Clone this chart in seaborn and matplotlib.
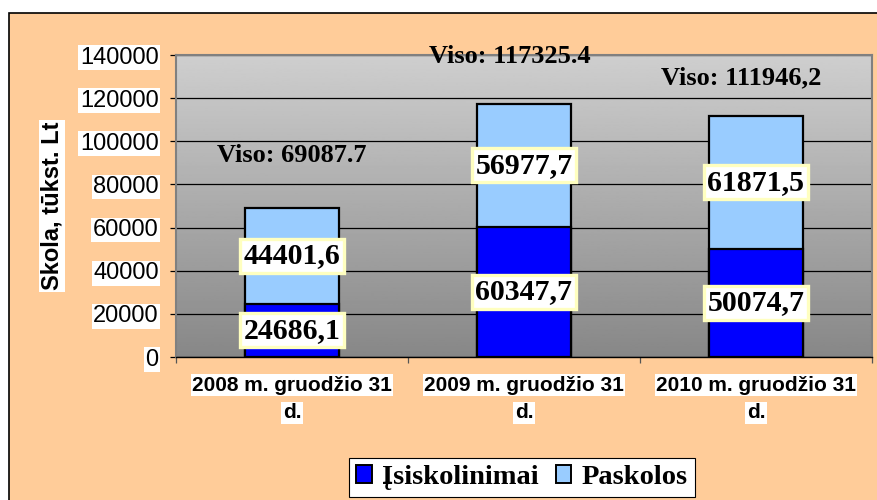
import numpy as np
import pandas as pd
import matplotlib
matplotlib.use('Agg')
import matplotlib.pyplot as plt
import matplotlib.patches as mpatches
from matplotlib.patches import Patch
import seaborn as sns

# values
dates = ["2008 m. gruodžio 31 d.", "2009 m. gruodžio 31 d.", "2010 m. gruodžio 31 d."]
isiskolinimai = [24686.1, 60347.7, 50074.7]
paskolos = [44401.6, 56977.7, 61871.5]
viso_labels = ["Viso: 69087.7", "Viso: 117325.4", "Viso: 111946,2"]
y_ticks = [0, 20000, 40000, 60000, 80000, 100000, 120000, 140000]

df = pd.DataFrame({'data': dates, 'Įsiskolinimai': isiskolinimai, 'Paskolos': paskolos})
df['Viso'] = df['Įsiskolinimai'] + df['Paskolos']

SANS = ['Liberation Sans', 'DejaVu Sans']
SERIF = ['Liberation Serif', 'DejaVu Serif']
BLUE = '#0000FF'
LIGHT = '#99CCFF'

W, H = 878, 500
fig = plt.figure(figsize=(W / 100, H / 100), dpi=100)
fig.patch.set_facecolor('white')
# orange chart area with black border (runs off right and bottom)
fig.patches.append(mpatches.Rectangle((9 / W, -0.05), 1.0, 1.05 - 13 / H,
                                      transform=fig.transFigure, facecolor='#FFCC99',
                                      edgecolor='black', linewidth=1.2, zorder=-10))

ax = fig.add_axes([176 / W, 143 / H, 696 / W, 302 / H])

# stacked bars: total first, then the lower segment on top of it
sns.barplot(data=df, x='data', y='Viso', color=LIGHT, saturation=1, width=0.405,
            edgecolor='black', linewidth=1.6, ax=ax, zorder=3)
sns.barplot(data=df, x='data', y='Įsiskolinimai', color=BLUE, saturation=1, width=0.405,
            edgecolor='black', linewidth=1.6, ax=ax, zorder=3)

# grey gradient plot area
grad = np.linspace(0.53, 0.81, 256).reshape(-1, 1)
ax.imshow(grad, cmap='gray', vmin=0, vmax=1, origin='lower', aspect='auto',
          extent=(-0.5, 2.5, 0, 140000), zorder=0)

ax.set_xlim(-0.5, 2.5)
ax.set_ylim(0, 140000)
ax.set_xlabel('')
ax.set_ylabel('')

ax.set_yticks(y_ticks)
ax.set_yticklabels([str(v) for v in y_ticks], fontsize=17, family=SANS,
                   bbox=dict(facecolor='white', edgecolor='none', pad=1))
ax.yaxis.grid(True, color='black', linewidth=0.9)
ax.set_axisbelow(True)
ax.tick_params(axis='y', length=4.5, width=0.9, color='black', pad=8)

ax.set_xticks([-0.5, 0.5, 1.5, 2.5])
ax.set_xticklabels([])
ax.tick_params(axis='x', length=4, width=0.9, color='#555555')

for s in ax.spines.values():
    s.set_color('#808080')
    s.set_linewidth(1.5)
ax.spines['bottom'].set_color('black')
ax.spines['bottom'].set_linewidth(1.0)

# category labels, each line on its own white box
for i, d in enumerate(dates):
    first, last = d.rsplit(' ', 1)
    for txt, yy in [(first, -0.093), (last, -0.185)]:
        ax.text(i, yy, txt, transform=ax.get_xaxis_transform(), ha='center', va='center',
                fontsize=15, fontweight='bold', family=SANS,
                bbox=dict(facecolor='white', edgecolor='none', pad=1))

# segment value labels
box = dict(boxstyle='square,pad=0.12', facecolor='white', edgecolor='#FFFFC0', linewidth=2.4)
for i in range(len(dates)):
    lo, hi = isiskolinimai[i], paskolos[i]
    for val, mid in [(lo, lo / 2), (hi, lo + hi / 2)]:
        ax.text(i, mid, f"{val:.1f}".replace('.', ','), ha='center', va='center',
                fontsize=21.5, fontweight='bold', family=SERIF, bbox=box, zorder=5)

# totals
offsets = [(0, 38), (-10, 34), (-11, 27)]
for i, lab in enumerate(viso_labels):
    ax.annotate(lab, xy=(i, df['Viso'][i]), xytext=offsets[i], textcoords='offset points',
                ha='center', va='center', fontsize=19, fontweight='bold', family=SERIF,
                annotation_clip=False, zorder=6)

fig.text(52 / W, 1 - 206 / H, 'Skola, tūkst. Lt', rotation=90, ha='center', va='center',
         fontsize=17, fontweight='bold', family=SANS,
         bbox=dict(facecolor='white', edgecolor='none', pad=1))

handles = [Patch(facecolor=BLUE, edgecolor='black', linewidth=1.4, label='Įsiskolinimai'),
           Patch(facecolor=LIGHT, edgecolor='black', linewidth=1.4, label='Paskolos')]
leg = fig.legend(handles=handles, loc='upper center', bbox_to_anchor=(522 / W, 1 - 458 / H),
                 ncol=2, frameon=True, fancybox=False, edgecolor='black', framealpha=1,
                 prop={'family': SERIF, 'size': 20.5, 'weight': 'bold'},
                 handlelength=0.55, handleheight=0.55,
                 handletextpad=0.35, columnspacing=0.6, borderpad=0.25, borderaxespad=0)
leg.get_frame().set_linewidth(0.8)

fig.savefig('out.png', dpi=100)
